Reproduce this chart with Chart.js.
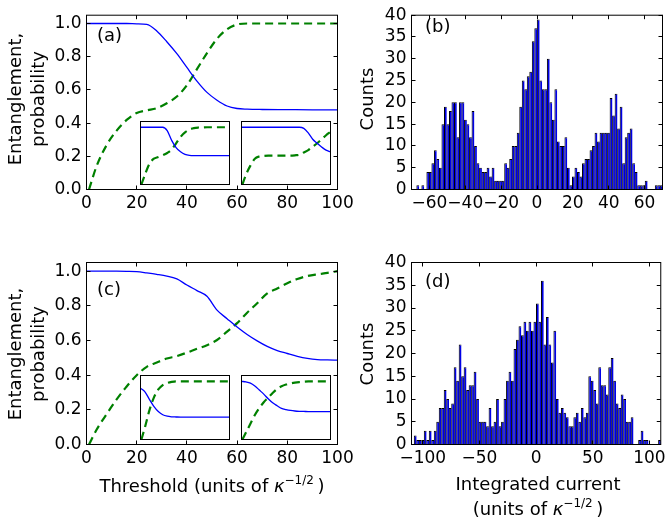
<!DOCTYPE html>
<html>
<head>
<meta charset="utf-8">
<script src="https://cdn.jsdelivr.net/npm/chart.js@4.4.0/dist/chart.umd.min.js"></script>
<style>
  body { margin: 0; background: #fff; width: 670px; height: 523px; overflow: hidden; position: relative;
         font-family: 'DejaVu Sans', sans-serif; }
  canvas { position: absolute; left: 0; top: 0; }
  .lbl { position: absolute; font-size: 18px; color: #000; white-space: nowrap; line-height: 1; }
  .ylab { transform: translate(-50%, -50%) rotate(-90deg); text-align: center; line-height: 23px; }
  .xlab { transform: translate(-50%, -50%); text-align: center; }
  .tag { transform: translateY(-50%); }
  sup { font-size: 12px; vertical-align: 8px; line-height: 0; }
</style>
</head>
<body>
<canvas id="pa" width="670" height="523"></canvas>
<canvas id="pb" width="670" height="523"></canvas>
<canvas id="pc" width="670" height="523"></canvas>
<canvas id="pd" width="670" height="523"></canvas>
<canvas id="ia1" width="670" height="523"></canvas>
<canvas id="ia2" width="670" height="523"></canvas>
<canvas id="ic1" width="670" height="523"></canvas>
<canvas id="ic2" width="670" height="523"></canvas>

<div class="lbl ylab" style="left:26px; top:99px">Entanglement,<br>probability</div>
<div class="lbl ylab" style="left:26px; top:353.5px">Entanglement,<br>probability</div>
<div class="lbl ylab" style="left:365.5px; top:99px">Counts</div>
<div class="lbl ylab" style="left:365.5px; top:353.5px">Counts</div>
<div class="lbl xlab" style="left:212px; top:486px">Threshold (units of <i>κ</i><sup>−1/2</sup>&#8201;)</div>
<div class="lbl xlab" style="left:538px; top:496px; line-height:25px">Integrated current<br>(units of <i>κ</i><sup>−1/2</sup>&#8201;)</div>
<div class="lbl tag" style="left:97px; top:35px">(a)</div>
<div class="lbl tag" style="left:425px; top:26px">(b)</div>
<div class="lbl tag" style="left:97px; top:289px">(c)</div>
<div class="lbl tag" style="left:425px; top:281px">(d)</div>

<script>
// threshold sweep, panel (a): entanglement (solid) and success probability (dashed)
const xEntA = [0, 4, 8, 12, 16, 20, 24, 28, 32, 36, 40, 44, 48, 52, 56, 60, 64, 70, 80, 90, 100];
const entA = [1.0, 1.0, 1.0, 1.0, 1.0, 0.998, 0.995, 0.955, 0.89, 0.818, 0.735, 0.653, 0.585, 0.538, 0.503, 0.488, 0.484, 0.482, 0.481, 0.48, 0.48];
const xProbA = [1, 4, 8, 12, 16, 20, 24, 28, 32, 36, 40, 44, 48, 52, 56, 60, 64, 70, 80, 90, 100];
const probA = [0, 0.14, 0.267, 0.355, 0.419, 0.461, 0.477, 0.49, 0.52, 0.56, 0.628, 0.725, 0.822, 0.908, 0.965, 0.994, 1.0, 1.0, 1.0, 1.0, 1.0];

// panel (c)
const xEntC = [0, 4, 8, 12, 16, 20, 24, 28, 32, 36, 40, 44, 48, 52, 56, 60, 64, 68, 72, 76, 80, 84, 88, 92, 96, 100];
const entC = [1.0, 1.0, 1.0, 1.0, 0.999, 0.997, 0.99, 0.982, 0.972, 0.955, 0.92, 0.888, 0.855, 0.775, 0.726, 0.678, 0.635, 0.598, 0.566, 0.542, 0.525, 0.509, 0.497, 0.49, 0.488, 0.487];
const xProbC = [1, 4, 8, 12, 16, 20, 24, 28, 32, 36, 40, 44, 48, 52, 56, 60, 64, 68, 72, 76, 80, 84, 88, 92, 96, 100];
const probC = [0, 0.085, 0.175, 0.26, 0.335, 0.4, 0.448, 0.473, 0.496, 0.51, 0.53, 0.552, 0.573, 0.603, 0.651, 0.7, 0.76, 0.815, 0.872, 0.9, 0.93, 0.955, 0.972, 0.982, 0.99, 1.0];

// insets (no axes shown)
const xIn = [0, 5, 10, 15, 20, 25, 30, 35, 40, 45, 50, 55, 60, 65, 70, 75, 80, 85, 90, 95, 100];
const xInProb = [1, 5, 10, 15, 20, 25, 30, 35, 40, 45, 50, 55, 60, 65, 70, 75, 80, 85, 90, 95, 100];
const inA1Ent = [1, 1, 1, 1, 1, 1, 0.94, 0.77, 0.645, 0.57, 0.525, 0.508, 0.505, 0.505, 0.505, 0.505, 0.505, 0.505, 0.505, 0.505, 0.505];
const inA1Prob = [0, 0.17, 0.36, 0.45, 0.48, 0.51, 0.55, 0.61, 0.72, 0.83, 0.91, 0.96, 0.985, 0.995, 0.998, 1, 1, 1, 1, 1, 1];
const inA2Ent = [1, 1, 1, 1, 1, 1, 1, 1, 1, 1, 1, 1, 1, 1, 0.98, 0.9, 0.79, 0.72, 0.655, 0.6, 0.57];
const inA2Prob = [0, 0.17, 0.33, 0.45, 0.49, 0.5, 0.505, 0.505, 0.505, 0.505, 0.505, 0.505, 0.51, 0.52, 0.56, 0.6, 0.66, 0.72, 0.79, 0.86, 0.92];
const inC1Ent = [0.88, 0.82, 0.69, 0.57, 0.48, 0.425, 0.4, 0.39, 0.387, 0.385, 0.385, 0.385, 0.385, 0.385, 0.385, 0.385, 0.385, 0.385, 0.385, 0.385, 0.385];
const inC1Prob = [0, 0.21, 0.5, 0.72, 0.86, 0.935, 0.97, 0.99, 1, 1, 1, 1, 1, 1, 1, 1, 1, 1, 1, 1, 1];
const inC2Ent = [1, 0.99, 0.97, 0.92, 0.85, 0.78, 0.7, 0.63, 0.58, 0.535, 0.515, 0.5, 0.49, 0.485, 0.483, 0.48, 0.48, 0.48, 0.48, 0.48, 0.48];
const inC2Prob = [0, 0.12, 0.27, 0.42, 0.54, 0.64, 0.72, 0.8, 0.87, 0.915, 0.945, 0.965, 0.978, 0.987, 0.993, 0.998, 1, 1, 1, 1, 1];

// integrated-current histograms, 100 bins each
const binStartB = -70, binWidthB = 1.4;
const countsB = [
  0, 0, 1, 0, 1, 0, 4, 4, 6, 9,
  7, 5, 15, 19, 15, 18, 20, 20, 12, 20,
  20, 16, 15, 12, 18, 10, 6, 5, 4, 4,
  5, 3, 5, 2, 2, 2, 2, 6, 5, 7,
  10, 10, 13, 19, 25, 23, 26, 27, 34, 37,
  39, 25, 23, 23, 30, 20, 16, 23, 11, 10,
  10, 12, 5, 1, 3, 5, 4, 3, 6, 7,
  7, 9, 10, 13, 11, 13, 13, 13, 13, 21,
  17, 22, 14, 19, 6, 12, 13, 14, 6, 4,
  1, 1, 1, 2, 0, 0, 0, 1, 1, 1
];
const binStartD = -110, binWidthD = 2.2;
const countsD = [
  0, 2, 1, 1, 1, 3, 1, 3, 1, 3,
  5, 8, 8, 12, 10, 8, 9, 17, 14, 22,
  15, 17, 12, 13, 13, 16, 10, 5, 5, 5,
  4, 8, 4, 5, 10, 4, 5, 10, 14, 16,
  14, 21, 23, 26, 24, 27, 25, 27, 25, 27,
  31, 27, 36, 22, 28, 22, 18, 25, 10, 7,
  8, 7, 6, 4, 4, 6, 7, 5, 8, 6,
  7, 15, 14, 12, 9, 17, 13, 13, 11, 17,
  19, 14, 9, 8, 11, 10, 5, 5, 6, 0,
  0, 1, 3, 1, 1, 0, 0, 0, 0, 1
];

const threshTicks = [0, 20, 40, 60, 80, 100];
const probTicks = [0, 0.2, 0.4, 0.6, 0.8, 1.0];
const countTicks = [0, 5, 10, 15, 20, 25, 30, 35, 40];
const currentTicksB = [-60, -40, -20, 0, 20, 40, 60];
const currentTicksD = [-100, -50, 0, 50, 100];

const W = 670, H = 523, AXIS_W = 80, AXIS_H = 40;
const BLUE = '#0000ff', GREEN = '#008000';

// frame box, white fill for insets, and inward ticks on all four sides
const framePlugin = {
  id: 'frame',
  beforeDraw(chart, args, opts) {
    if (!opts.fill) return;
    const { ctx, chartArea: a } = chart;
    ctx.save();
    ctx.fillStyle = '#fff';
    ctx.fillRect(a.left, a.top, a.right - a.left, a.bottom - a.top);
    ctx.restore();
  },
  afterDraw(chart, args, opts) {
    const { ctx, chartArea: a, scales } = chart;
    ctx.save();
    ctx.strokeStyle = '#000';
    ctx.lineWidth = 1;
    if (opts.ticks) {
      const len = 4;
      ctx.beginPath();
      scales.x.ticks.forEach(t => {
        const px = Math.round(scales.x.getPixelForValue(t.value) - 0.5) + 0.5;
        ctx.moveTo(px, a.bottom); ctx.lineTo(px, a.bottom - len);
        ctx.moveTo(px, a.top); ctx.lineTo(px, a.top + len);
      });
      scales.y.ticks.forEach(t => {
        const py = Math.round(scales.y.getPixelForValue(t.value) - 0.5) + 0.5;
        ctx.moveTo(a.left, py); ctx.lineTo(a.left + len, py);
        ctx.moveTo(a.right, py); ctx.lineTo(a.right - len, py);
      });
      ctx.stroke();
    }
    ctx.strokeRect(a.left, a.top, a.right - a.left, a.bottom - a.top);
    ctx.restore();
  }
};

Chart.register(framePlugin);
Chart.defaults.font.family = "'DejaVu Sans', sans-serif";
Chart.defaults.font.size = 17;
Chart.defaults.color = '#000';

function pts(xs, ys) {
  return ys.map((y, i) => ({ x: xs[i], y }));
}

function pad(area, withAxes) {
  if (!withAxes) return { left: area.l, top: area.t, right: W - area.r, bottom: H - area.b };
  return { left: area.l - AXIS_W, top: area.t, right: W - area.r, bottom: H - area.b - AXIS_H };
}

function minusFmt(v) {
  return v < 0 ? '\u2212' + (-v) : String(v);
}

function axis(min, max, ticks, fmt, horizontal) {
  return {
    type: 'linear', min, max, offset: false,
    grid: { display: false, drawTicks: false },
    border: { display: false },
    afterBuildTicks: s => { s.ticks = ticks.map(v => ({ value: v })); },
    afterFit: s => { if (horizontal) s.height = AXIS_H; else s.width = AXIS_W; },
    ticks: { callback: fmt, autoSkip: false, maxRotation: 0, minRotation: 0, padding: horizontal ? 4 : 5 }
  };
}

function baseOptions(area, withAxes, frame) {
  return {
    responsive: false, devicePixelRatio: 1, animation: false, events: [],
    layout: { autoPadding: false, padding: pad(area, withAxes) },
    elements: { point: { radius: 0 }, line: { cubicInterpolationMode: 'monotone', fill: false } },
    plugins: { legend: { display: false }, tooltip: { enabled: false }, frame }
  };
}

function lineSets(entX, ent, probX, prob) {
  return [
    { data: pts(entX, ent), borderColor: BLUE, borderWidth: 1.3 },
    { data: pts(probX, prob), borderColor: GREEN, borderWidth: 2.2, borderDash: [8, 5] }
  ];
}

function linePanel(id, area, entX, ent, probX, prob) {
  const options = baseOptions(area, true, { ticks: true });
  options.scales = {
    x: axis(0, 100, threshTicks, v => String(v), true),
    y: axis(0, 1.05, probTicks, v => v.toFixed(1), false)
  };
  new Chart(document.getElementById(id), { type: 'line', data: { datasets: lineSets(entX, ent, probX, prob) }, options });
}

function insetPanel(id, area, ent, prob) {
  const options = baseOptions(area, false, { fill: true });
  options.scales = {
    x: { type: 'linear', min: 0, max: 100, display: false },
    y: { type: 'linear', min: 0, max: 1.1, display: false }
  };
  new Chart(document.getElementById(id), { type: 'line', data: { datasets: lineSets(xIn, ent, xInProb, prob) }, options });
}

function histPanel(id, area, start, width, counts, xTicks) {
  const data = counts.map((c, i) => ({ x: start + (i + 0.5) * width, y: c }));
  const options = baseOptions(area, true, { ticks: true });
  options.scales = {
    x: axis(start, start + counts.length * width, xTicks, minusFmt, true),
    y: axis(0, 40, countTicks, v => String(v), false)
  };
  // bars slightly wider than a bin so neighbours overlap instead of leaving sub-pixel gaps
  new Chart(document.getElementById(id), {
    type: 'bar',
    data: { datasets: [{
      data, backgroundColor: '#0000e6', borderColor: '#000',
      borderWidth: { left: 1, top: 1, right: 0, bottom: 0 }, borderSkipped: false,
      barPercentage: 1.12, categoryPercentage: 1
    }] },
    options
  });
}

linePanel('pa', { l: 86.5, t: 8.5, r: 337.5, b: 189.5 }, xEntA, entA, xProbA, probA);
histPanel('pb', { l: 411.5, t: 8.5, r: 662.5, b: 189.5 }, binStartB, binWidthB, countsB, currentTicksB);
linePanel('pc', { l: 86.5, t: 262.5, r: 337.5, b: 444.5 }, xEntC, entC, xProbC, probC);
histPanel('pd', { l: 411.5, t: 262.5, r: 662.5, b: 444.5 }, binStartD, binWidthD, countsD, currentTicksD);

insetPanel('ia1', { l: 140.5, t: 121.5, r: 229.5, b: 184.5 }, inA1Ent, inA1Prob);
insetPanel('ia2', { l: 241.5, t: 121.5, r: 330.5, b: 184.5 }, inA2Ent, inA2Prob);
insetPanel('ic1', { l: 140.5, t: 375.5, r: 229.5, b: 439.5 }, inC1Ent, inC1Prob);
insetPanel('ic2', { l: 241.5, t: 375.5, r: 330.5, b: 439.5 }, inC2Ent, inC2Prob);
</script>
</body>
</html>
